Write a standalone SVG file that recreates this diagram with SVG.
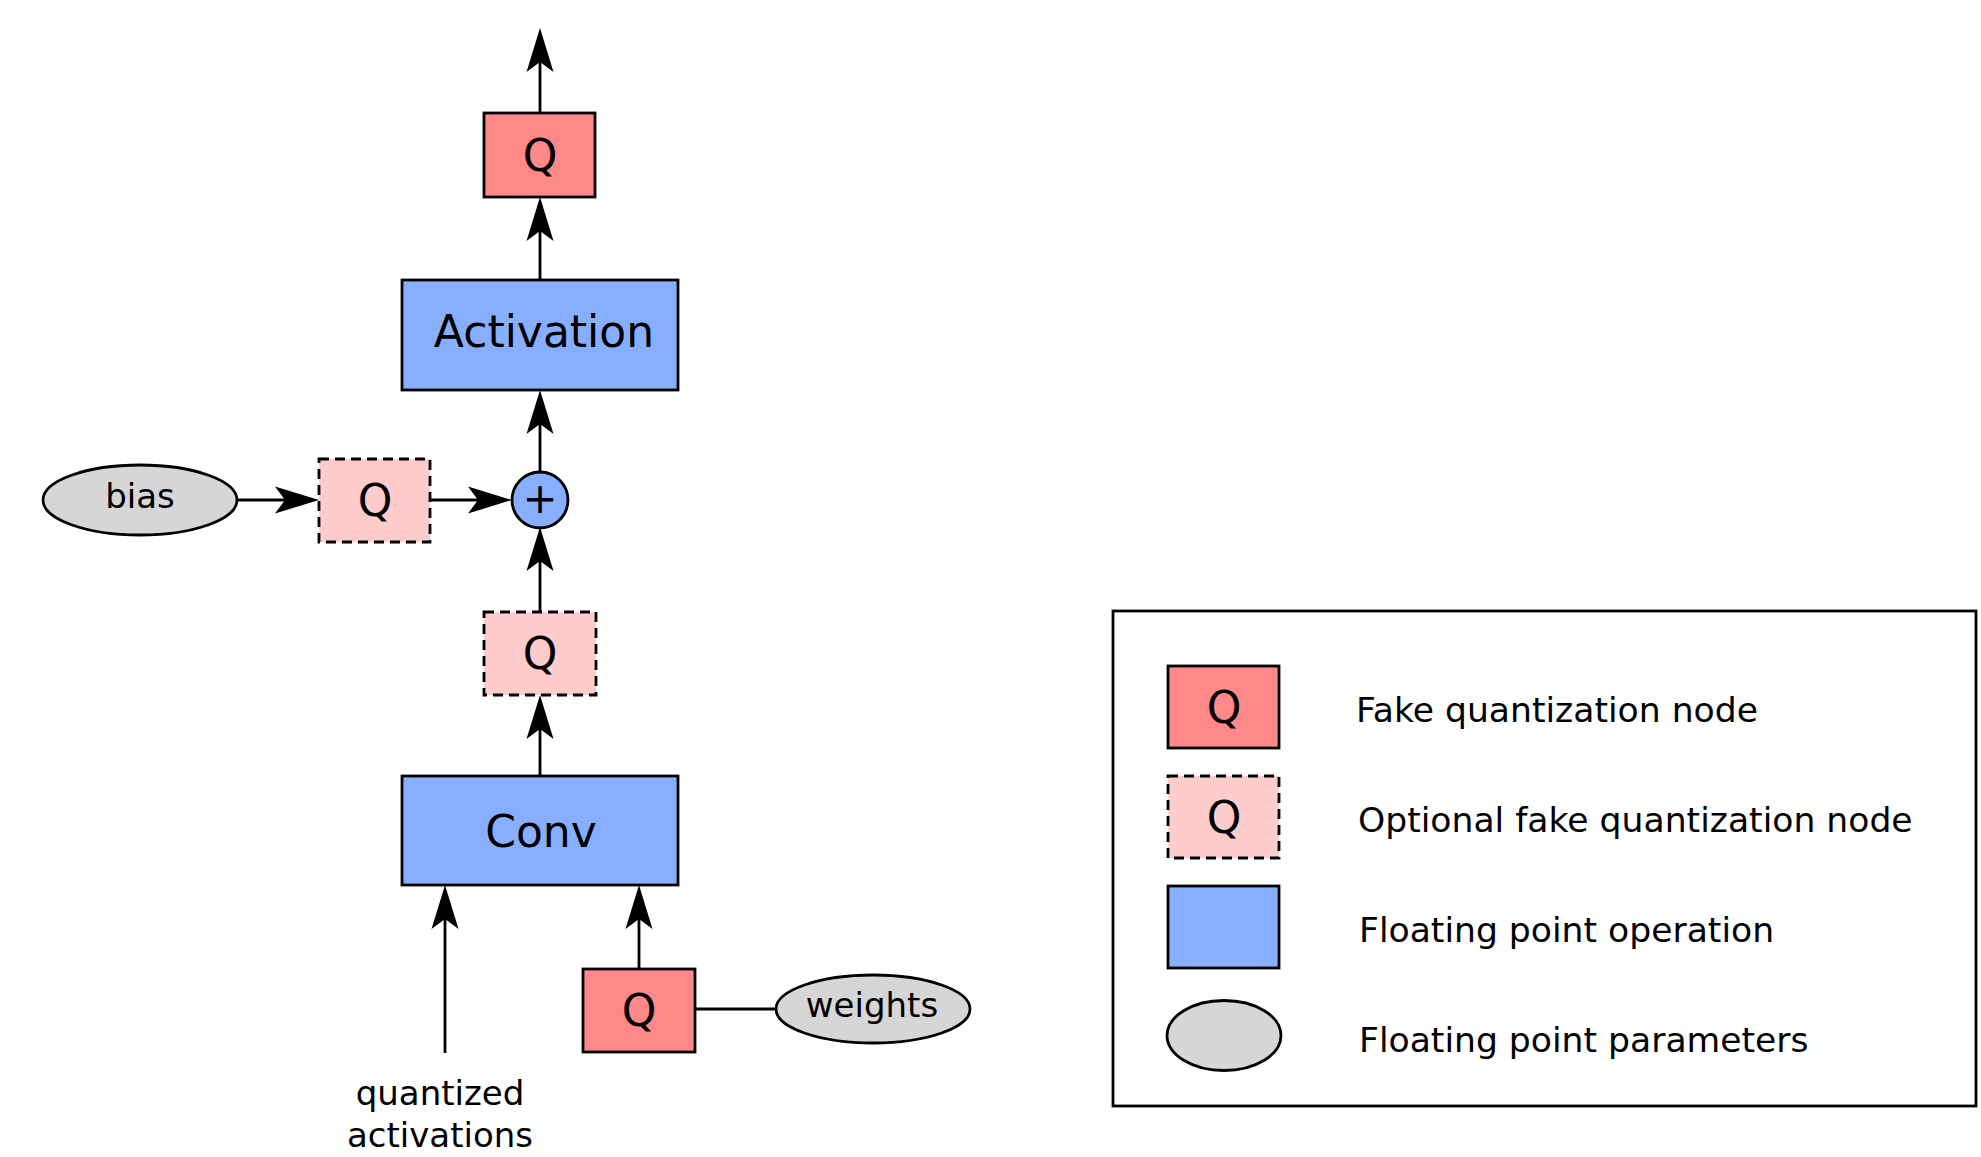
<svg xmlns="http://www.w3.org/2000/svg" width="1981" height="1157" viewBox="0 0 1981 1157">
  <style>
    text { font-family: "DejaVu Sans", "Liberation Sans", sans-serif; fill: #000; }
    .big { font-size: 44px; text-anchor: middle; }
    .small { font-size: 34px; text-anchor: middle; }
    .leg { font-size: 34.6px; }
    .q { fill: #ff8888; stroke: #000; stroke-width: 2.8; }
    .qopt { fill: #ffcccc; stroke: #000; stroke-width: 2.8; stroke-dasharray: 10 6; }
    .op { fill: #88aeff; stroke: #000; stroke-width: 2.8; }
    .param { fill: #d6d6d6; stroke: #000; stroke-width: 2.8; }
    .edge { fill: none; stroke: #000; stroke-width: 2.8; }
    .arrow { marker-end: url(#ah); }
  </style>
  <defs>
    <marker id="ah" markerUnits="userSpaceOnUse" viewBox="-12 -15 48 30" markerWidth="48" markerHeight="30" refX="0" refY="0" orient="auto">
      <path d="M34,0 L-10,-13.5 L0,0 L-10,13.5 Z" fill="#000"/>
    </marker>
  </defs>
  <rect width="1981" height="1157" fill="#fff"/>

  <g id="connectors">
    <line class="edge arrow" x1="540" y1="113" x2="540" y2="62"/>
    <line class="edge arrow" x1="540" y1="280" x2="540" y2="231"/>
    <line class="edge arrow" x1="540" y1="472" x2="540" y2="424"/>
    <line class="edge arrow" x1="540" y1="612" x2="540" y2="561"/>
    <line class="edge arrow" x1="540" y1="776" x2="540" y2="729"/>
    <line class="edge arrow" x1="237" y1="500" x2="285" y2="500"/>
    <line class="edge arrow" x1="430" y1="500" x2="478" y2="500"/>
    <line class="edge arrow" x1="445" y1="1053" x2="445" y2="919"/>
    <line class="edge arrow" x1="639" y1="969" x2="639" y2="919"/>
    <line class="edge" x1="695" y1="1009" x2="776" y2="1009"/>
  </g>

  <g id="q-out">
    <rect class="q" x="484" y="113" width="111" height="84"/>
    <text class="big" x="540" y="171">Q</text>
  </g>
  <g id="activation">
    <rect class="op" x="402" y="280" width="276" height="110"/>
    <text class="big" x="544" y="347">Activation</text>
  </g>
  <g id="add">
    <circle class="op" cx="540" cy="500" r="28"/>
    <text x="540" y="513" style="font-size:42px;text-anchor:middle">+</text>
  </g>
  <g id="bias">
    <ellipse class="param" cx="140" cy="500" rx="97" ry="35"/>
    <text class="small" x="140" y="508">bias</text>
  </g>
  <g id="q-bias">
    <rect class="qopt" x="319" y="459" width="111" height="83"/>
    <text class="big" x="375" y="516">Q</text>
  </g>
  <g id="q-conv">
    <rect class="qopt" x="484" y="612" width="112" height="83"/>
    <text class="big" x="540" y="669">Q</text>
  </g>
  <g id="conv">
    <rect class="op" x="402" y="776" width="276" height="109"/>
    <text class="big" x="541" y="847">Conv</text>
  </g>
  <g id="q-weights">
    <rect class="q" x="583" y="969" width="112" height="83"/>
    <text class="big" x="639" y="1026">Q</text>
  </g>
  <g id="weights">
    <ellipse class="param" cx="873" cy="1009" rx="97" ry="34"/>
    <text class="small" x="872" y="1017">weights</text>
  </g>
  <g id="input">
    <text class="small" x="440" y="1105">quantized</text>
    <text class="small" x="440" y="1147">activations</text>
  </g>

  <g id="legend">
    <rect x="1113" y="611" width="863" height="495" fill="none" stroke="#000" stroke-width="2.8"/>
    <rect class="q" x="1168" y="666" width="111" height="82"/>
    <text class="big" x="1224" y="723">Q</text>
    <text class="leg" x="1356" y="722">Fake quantization node</text>
    <rect class="qopt" x="1168" y="776" width="111" height="82"/>
    <text class="big" x="1224" y="833">Q</text>
    <text class="leg" x="1358" y="832">Optional fake quantization node</text>
    <rect class="op" x="1168" y="886" width="111" height="82"/>
    <text class="leg" x="1359" y="942">Floating point operation</text>
    <ellipse class="param" cx="1224" cy="1035.5" rx="57" ry="35"/>
    <text class="leg" x="1359" y="1052">Floating point parameters</text>
  </g>
</svg>
